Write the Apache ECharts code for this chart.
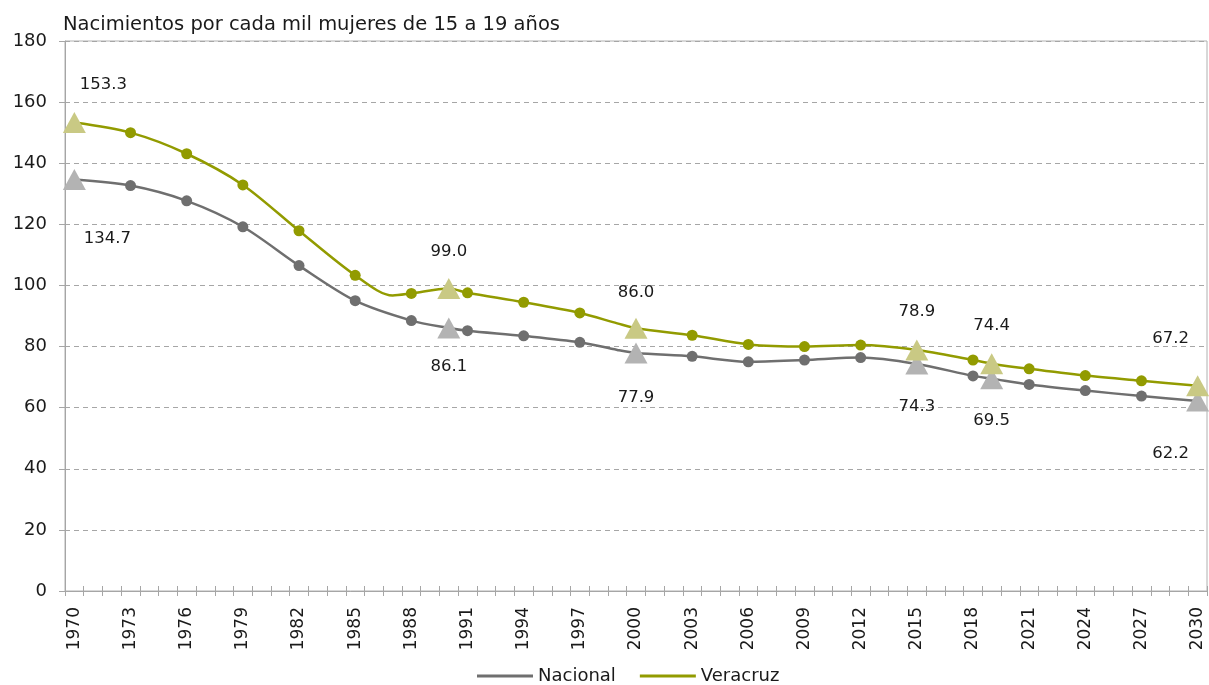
<!DOCTYPE html>
<html><head><meta charset="utf-8">
<script src="https://cdn.jsdelivr.net/npm/echarts@6/dist/echarts.min.js"></script>
<style>html,body{margin:0;padding:0;background:#fff}#c{width:1209px;height:685px}</style>
</head><body><div id="c"></div>
<script>
// Categories (one per year)
const years = [];
for (let y = 1970; y <= 2030; y++) years.push(String(y));

// Values (years not listed are unread -> drawn by connecting points)
const nacionalYears  = [1970, 1973, 1976, 1979, 1982, 1985, 1988, 1990, 1991, 1994, 1997, 1999, 2000, 2003, 2006, 2009, 2012, 2015, 2018, 2019, 2021, 2024, 2027, 2030];
const nacionalValues = [134.7, 132.7, 127.7, 119.2, 106.5, 95.0, 88.5, 86.1, 85.2, 83.5, 81.4, 78.9, 77.9, 76.8, 75.0, 75.6, 76.4, 74.3, 70.4, 69.5, 67.6, 65.6, 63.8, 62.2];

const veracruzYears  = [1970, 1973, 1976, 1979, 1982, 1985, 1987, 1988, 1990, 1991, 1994, 1997, 1999, 2000, 2003, 2006, 2009, 2012, 2015, 2018, 2019, 2021, 2024, 2027, 2030];
const veracruzValues = [153.3, 150.0, 143.1, 132.9, 117.9, 103.3, 96.7, 97.4, 99.0, 97.6, 94.5, 91.0, 87.6, 86.0, 83.7, 80.7, 80.0, 80.5, 78.9, 75.6, 74.4, 72.7, 70.5, 68.8, 67.2];

// Marker years
const circleYears   = [1973, 1976, 1979, 1982, 1985, 1988, 1991, 1994, 1997, 2003, 2006, 2009, 2012, 2018, 2021, 2024, 2027];
const triangleYears = [1970, 1990, 2000, 2015, 2019, 2030];

const yTicks = { min: 0, max: 180, step: 20 };
const titleText = 'Nacimientos por cada mil mujeres de 15 a 19 años';

// ---- build helpers ----
function fullSeries(ys, vs) {
  const m = {}; ys.forEach((y, i) => m[y] = vs[i]);
  return years.map(y => (m[+y] !== undefined ? m[+y] : null));
}
function pick(ys, vs, list) {
  const m = {}; ys.forEach((y, i) => m[y] = vs[i]);
  return list.map(y => [String(y), m[y]]);
}
const FONT = 'DejaVu Sans';
const C = {
  nac: '#6f6f6f', nacLight: '#b3b3b3',
  ver: '#929b00', verLight: '#c9c984',
  grid: '#a6a6a6', text: '#1a1a1a'
};
// label offsets per triangle (styles, not data)
const nacOffsets = [[33, 59], [0, 39], [0, 45], [0, 43], [0, 42], [-27, 53]];
const verOffsets = [[29, -38], [0, -37], [0, -36], [0, -38], [0, -38], [-27, -47]];

function lightPieces(color) {
  return triangleYears.filter(y => y > 1970).map(y => {
    const i = y - 1970;
    return { gt: i - 1, lte: i, color: color };
  });
}
function triData(ys, vs, offsets) {
  return pick(ys, vs, triangleYears).map((d, i) => ({
    value: d,
    label: { offset: offsets[i] }
  }));
}
const labelStyle = {
  show: true, position: 'inside', color: C.text, fontFamily: FONT, fontSize: 16.5,
  formatter: p => p.value[1].toFixed(1)
};

const chart = echarts.init(document.getElementById('c'), null, { renderer: 'canvas' });
chart.setOption({
  animation: false,
  textStyle: { fontFamily: FONT },
  title: {
    text: titleText, left: 58, top: 10,
    textStyle: { fontFamily: FONT, fontSize: 19.5, fontWeight: 'normal', color: C.text }
  },
  grid: { left: 65, right: 2, top: 41, bottom: 94, show: true, borderColor: '#b0b0b0', borderWidth: 1 },
  legend: {
    left: 472, top: 662, itemWidth: 56, itemHeight: 3, itemGap: 24, icon: 'rect',
    data: ['Nacional', 'Veracruz'],
    textStyle: { fontFamily: FONT, fontSize: 18, color: C.text }
  },
  visualMap: [
    { show: false, type: 'piecewise', seriesIndex: 0, dimension: 0, pieces: lightPieces(C.nacLight), outOfRange: { color: C.nac } },
    { show: false, type: 'piecewise', seriesIndex: 1, dimension: 0, pieces: lightPieces(C.verLight), outOfRange: { color: C.ver } }
  ],
  xAxis: [{
    type: 'category', data: years, boundaryGap: true,
    axisLine: { lineStyle: { color: C.grid, width: 1 } },
    axisTick: { show: true, interval: 0, length: 5, lineStyle: { color: C.grid } },
    axisLabel: { interval: 2, rotate: 90, margin: 16, color: C.text, fontFamily: FONT, fontSize: 17 },
    splitLine: { show: false }
  }, {
    type: 'category', data: years, boundaryGap: true, position: 'bottom',
    axisLine: { show: false },
    axisTick: { show: true, inside: true, interval: 0, length: 5, lineStyle: { color: C.grid } },
    axisLabel: { show: false }, splitLine: { show: false }
  }],
  yAxis: {
    type: 'value', min: yTicks.min, max: yTicks.max, interval: yTicks.step,
    axisLine: { show: true, lineStyle: { color: C.grid } },
    axisTick: { show: true, length: 6, lineStyle: { color: C.grid } },
    axisLabel: { margin: 18, color: C.text, fontFamily: FONT, fontSize: 18 },
    splitLine: { lineStyle: { color: C.grid, type: [5, 4], width: 1 } }
  },
  series: [
    { name: 'Nacional', type: 'line', data: fullSeries(nacionalYears, nacionalValues), connectNulls: true,
      smooth: 0.3, symbol: 'none', color: C.nac, lineStyle: { width: 2.5, color: C.nac }, itemStyle: { color: C.nac }, z: 2 },
    { name: 'Veracruz', type: 'line', data: fullSeries(veracruzYears, veracruzValues), connectNulls: true,
      smooth: 0.3, symbol: 'none', color: C.ver, lineStyle: { width: 2.5, color: C.ver }, itemStyle: { color: C.ver }, z: 2 },
    { type: 'scatter', data: pick(nacionalYears, nacionalValues, circleYears), symbol: 'circle', symbolSize: 11,
      itemStyle: { color: C.nac, opacity: 1 }, z: 3 },
    { type: 'scatter', data: pick(veracruzYears, veracruzValues, circleYears), symbol: 'circle', symbolSize: 11,
      itemStyle: { color: C.ver, opacity: 1 }, z: 3 },
    { type: 'scatter', data: triData(nacionalYears, nacionalValues, nacOffsets), symbol: 'triangle', symbolSize: [23, 21],
      itemStyle: { color: C.nacLight, opacity: 1 }, label: labelStyle, z: 4 },
    { type: 'scatter', data: triData(veracruzYears, veracruzValues, verOffsets), symbol: 'triangle', symbolSize: [23, 21],
      itemStyle: { color: C.verLight, opacity: 1 }, label: labelStyle, z: 4 }
  ]
});
</script></body></html>
